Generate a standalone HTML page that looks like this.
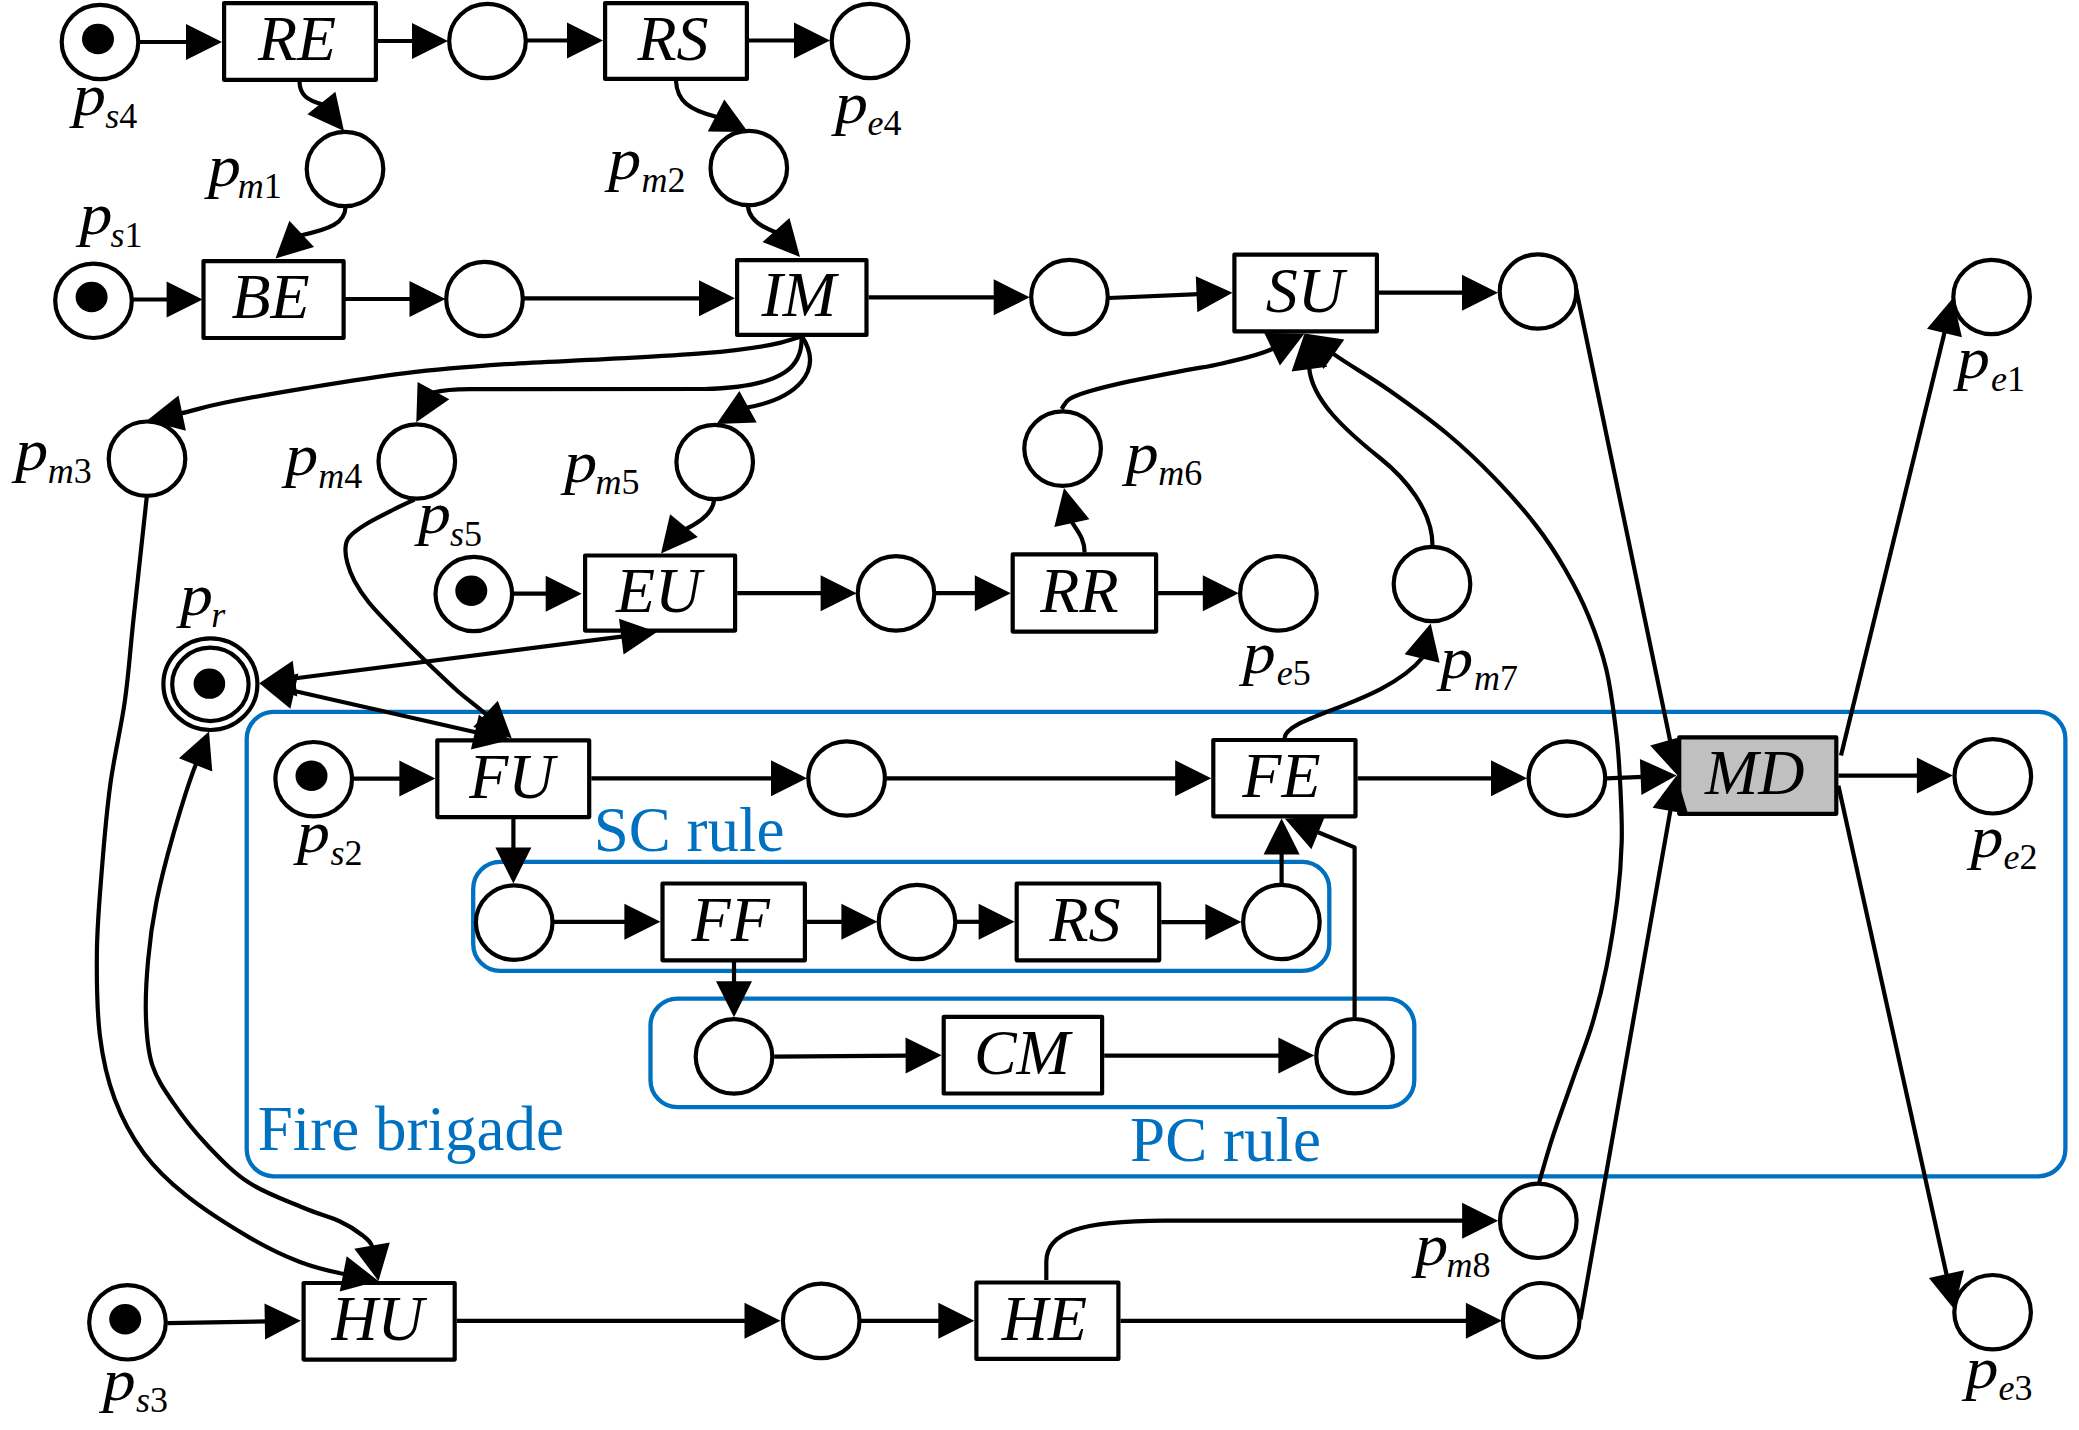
<!DOCTYPE html>
<html><head><meta charset="utf-8"><title>Petri net</title>
<style>
html,body{margin:0;padding:0;background:#fff;}
svg{display:block;}
.pl{fill:#fff;stroke:#000;stroke-width:4.2;}
.tr{stroke:#000;stroke-width:4.2;stroke-linejoin:round;}
.ln{fill:none;stroke:#000;stroke-width:4.2;stroke-linejoin:round;}
.bl{fill:none;stroke:#0070C0;stroke-width:4.3;}
polygon{fill:#000;}
text{font-family:"Liberation Serif",serif;}
.tn{font-style:italic;font-size:64px;text-anchor:middle;fill:#000;}
.lp{font-style:italic;font-size:59.93px;fill:#000;}
.ls{font-style:italic;font-size:36px;fill:#000;}
.ld{font-style:normal;}
.bt{font-size:63px;fill:#0070C0;}
</style></head>
<body>
<svg width="2079" height="1430" viewBox="0 0 2079 1430">
<rect width="2079" height="1430" fill="#fff"/>
<rect x="246.7" y="711.9" width="1818.7" height="464.4" rx="27" class="bl"/>
<rect x="473.2" y="861.9" width="856.1" height="109" rx="27" class="bl"/>
<rect x="650.5" y="998.6" width="763.8" height="108.6" rx="27" class="bl"/>
<path d="M139 42L188 42" class="ln"/>
<path d="M378 41L414 41" class="ln"/>
<path d="M527 40.5L569 40.5" class="ln"/>
<path d="M749 40.5L796 40.5" class="ln"/>
<path d="M299.5 82C300 95 307 100 322.6 104.5" class="ln"/>
<path d="M345.5 207.5C345 223 330 229 300.3 235.5" class="ln"/>
<path d="M676 81C677 101 689 110 717 117" class="ln"/>
<path d="M748 206.5C749 219 760 227 778 233" class="ln"/>
<path d="M133 299.5L168.6 299.5" class="ln"/>
<path d="M345 299L411.5 299" class="ln"/>
<path d="M523 298.3L701 298.3" class="ln"/>
<path d="M868.6 297.3L995.7 297.3" class="ln"/>
<path d="M1109 298L1198.5 294.2" class="ln"/>
<path d="M1379 292.7L1464 292.7" class="ln"/>
<path d="M801 336.5C790.9 339.3 786.7 342.1 770.6 344.9C754.5 347.7 731.9 350.8 704.2 353.2C676.6 355.6 637.9 357.4 604.7 359.2C571.5 361 538.3 361.9 505.1 364.2C471.9 366.5 438.7 369.1 405.5 373.1C372.3 377.1 336.4 383.1 306 388.1C275.6 393.1 244 398.8 223 403C202 407.2 194.6 410.5 180.3 413.5" class="ln"/>
<path d="M801.5 336.5C803 364 788 387 704 389L470 389.1C455 389.1 443 390 433 392.6" class="ln"/>
<path d="M802 336.5C825 372 795 399 747 407.5" class="ln"/>
<path d="M714 500.5C713 512 703 521 684 530" class="ln"/>
<path d="M513.5 593.7L547.7 593.7" class="ln"/>
<path d="M737.2 593.2L822.6 593.2" class="ln"/>
<path d="M935.3 593.2L976.8 593.2" class="ln"/>
<path d="M1157 593.2L1204.8 593.2" class="ln"/>
<path d="M1084.6 552.5C1084.6 538 1077 531 1071.6 521.5" class="ln"/>
<path d="M1061.5 409C1064.1 405.8 1064.7 402.2 1069.2 399.3C1073.7 396.4 1078.9 394.5 1088.5 391.6C1098.1 388.7 1111 385.4 1127 381.9C1143 378.4 1168.9 373.5 1184.7 370.4C1200.5 367.3 1207.1 367.2 1222 363.5C1236.9 359.8 1257.7 356.1 1273.9 348.3" class="ln"/>
<path d="M1432.5 545.5C1432.5 510 1405 478 1380 458C1345 430 1312 400 1309.2 368" class="ln"/>
<path d="M1539.2 1182C1543.8 1166.6 1547.5 1152.8 1553.1 1135.7C1558.7 1118.7 1566.2 1098.4 1572.7 1079.7C1579.2 1061 1586.7 1042.5 1592.3 1023.8C1597.9 1005.1 1602.1 988.8 1606.3 967.8C1610.5 946.8 1614.9 918.9 1617.5 897.9C1620.1 876.9 1621.2 860 1621.7 842C1622.2 824 1621.4 807.8 1620.5 790C1619.6 772.2 1618.9 755.2 1616.5 735C1614.1 714.8 1610.9 688.8 1606.2 669C1601.5 649.2 1595.4 632.8 1588.6 616.2C1581.8 599.6 1573.9 584.4 1565.1 569.2C1556.3 554 1547.5 540.3 1535.7 525.1C1524 509.9 1509.3 493.3 1494.6 478.1C1479.9 462.9 1465.1 448.7 1447.5 434C1429.9 419.3 1408 403.5 1388.8 390C1369.6 376.5 1350.7 366.1 1332.3 353.1" class="ln"/>
<path d="M1284.6 738C1285.5 716 1385 704 1423 657" class="ln"/>
<path d="M1575.5 286L1670.4 741.9" class="ln"/>
<path d="M1580.4 1319.4L1670.7 808.9" class="ln"/>
<path d="M1841 755.5L1944.9 331" class="ln"/>
<path d="M1838.4 785.7L1946.9 1276.1" class="ln"/>
<path d="M353.6 778.6L401.4 778.6" class="ln"/>
<path d="M591.3 778.3L773 778.3" class="ln"/>
<path d="M886.2 778.3L1177.2 778.3" class="ln"/>
<path d="M1357.6 778.3L1493 778.3" class="ln"/>
<path d="M1606.8 778.3L1642.6 776.8" class="ln"/>
<path d="M1838.4 775.6L1918.9 775.6" class="ln"/>
<path d="M552.7 921.8L626.4 921.8" class="ln"/>
<path d="M807 921.8L843.4 921.8" class="ln"/>
<path d="M956.7 921.8L980.6 921.8" class="ln"/>
<path d="M1161.3 922.1L1207.4 922.1" class="ln"/>
<path d="M774.2 1056.6L907.6 1055.6" class="ln"/>
<path d="M1104.2 1055.6L1280.4 1055.6" class="ln"/>
<path d="M167.4 1323.2L266.8 1321.4" class="ln"/>
<path d="M456.8 1320.8L746.5 1320.8" class="ln"/>
<path d="M861 1320.8L940.3 1320.8" class="ln"/>
<path d="M1120.5 1320.8L1467.9 1320.8" class="ln"/>
<path d="M513.4 819L513.4 849.5" class="ln"/>
<path d="M734 962L734 983.3" class="ln"/>
<path d="M1281.6 883L1281.6 852.4" class="ln"/>
<path d="M1354.6 1017.3L1354.6 847.4L1318.1 832.3" class="ln"/>
<path d="M1046.3 1280L1046.3 1262C1046.3 1232 1080 1221 1165 1220.7L1464 1220.7" class="ln"/>
<path d="M146.7 497.5C142.3 538.3 137 586.2 133.4 620C129.8 653.8 128.8 672.7 125 700C121.2 727.3 114.2 755.9 110.4 783.9C106.6 811.9 104.2 839.9 102 867.9C99.8 895.9 97.2 923.8 96.9 951.8C96.6 979.8 97 1011.2 99.9 1035.7C102.9 1060.2 107.3 1079.1 114.6 1098.7C121.9 1118.3 132 1137.1 143.9 1153.2C155.8 1169.3 168.4 1181.2 185.9 1195.2C203.4 1209.2 229.8 1226 248.8 1237.1C267.8 1248.2 283.9 1255.8 300 1262C316.1 1268.2 329.9 1271.3 345.2 1274.3" class="ln"/>
<path d="M196.4 763C187.1 786.2 180 811.2 173.3 834.3C166.7 857.4 160.7 880.4 156.5 901.4C152.3 922.4 149.8 940.6 148.1 960.2C146.3 979.8 145.3 1001.4 146 1018.9C146.7 1036.4 147.8 1051.1 152.3 1065.1C156.9 1079.1 164.2 1089.6 173.3 1102.9C182.4 1116.2 194.3 1131.5 206.9 1144.8C219.5 1158.1 232.7 1172.1 248.8 1182.6C264.9 1193.1 288.2 1201.3 303.4 1207.8C318.6 1214.3 330.2 1217 340 1221.5C349.8 1226 356.6 1230.7 362 1235C367.4 1239.3 371.4 1242.2 372.4 1247.5" class="ln"/>
<path d="M414.5 499.5C407.2 503 400.9 505.8 392.7 510C384.5 514.2 372.8 520 365.5 524.5C358.2 529 352.4 533.3 349.1 537.3C345.8 541.2 345.8 544 345.5 548.2C345.2 552.4 345.8 557.2 347.3 562.7C348.8 568.2 350.9 574.2 354.5 580.9C358.1 587.6 362.7 594.8 369.1 602.7C375.5 610.6 383.9 619.1 392.7 628.2C401.5 637.3 411.2 647 421.8 657.3C432.4 667.6 445.5 680.3 456.4 690C467.3 699.7 477.3 706.2 487 715.3" class="ln"/>
<path d="M290 679L623.3 636.3" class="ln"/>
<path d="M290 690L476.8 732.5" class="ln"/>
<polygon points="1677.3,775.2 1650.2,745.4 1684.9,735.7"/>
<ellipse cx="100" cy="42" rx="38.3" ry="37.2" class="pl"/>
<ellipse cx="98" cy="39" rx="16" ry="15.3" fill="#000"/>
<ellipse cx="487.5" cy="41" rx="38.3" ry="37.2" class="pl"/>
<ellipse cx="870" cy="41" rx="38.3" ry="37.2" class="pl"/>
<ellipse cx="345" cy="169" rx="38.3" ry="37.2" class="pl"/>
<ellipse cx="748.8" cy="168" rx="38.3" ry="37.2" class="pl"/>
<ellipse cx="93.5" cy="300.8" rx="38.3" ry="37.2" class="pl"/>
<ellipse cx="91.6" cy="297" rx="16" ry="15.3" fill="#000"/>
<ellipse cx="484.5" cy="299" rx="38.3" ry="37.2" class="pl"/>
<ellipse cx="1069.5" cy="297" rx="38.3" ry="37.2" class="pl"/>
<ellipse cx="1538" cy="291.5" rx="38.3" ry="37.2" class="pl"/>
<ellipse cx="1991.6" cy="297" rx="38.3" ry="37.2" class="pl"/>
<ellipse cx="147" cy="458.7" rx="38.3" ry="37.2" class="pl"/>
<ellipse cx="416.8" cy="461.5" rx="38.3" ry="37.2" class="pl"/>
<ellipse cx="714.7" cy="462" rx="38.3" ry="37.2" class="pl"/>
<ellipse cx="1062.6" cy="448.6" rx="38.3" ry="37.2" class="pl"/>
<ellipse cx="473.8" cy="594" rx="38.3" ry="37.2" class="pl"/>
<ellipse cx="471.3" cy="590.7" rx="16" ry="15.3" fill="#000"/>
<ellipse cx="896" cy="593.4" rx="38.3" ry="37.2" class="pl"/>
<ellipse cx="1278.4" cy="593.4" rx="38.3" ry="37.2" class="pl"/>
<ellipse cx="1432" cy="584" rx="38.3" ry="37.2" class="pl"/>
<ellipse cx="210.4" cy="684.2" rx="47" ry="45.8" class="pl"/>
<ellipse cx="210.4" cy="684.4" rx="38.2" ry="36.7" class="pl"/>
<ellipse cx="209.4" cy="683.7" rx="15.8" ry="15.1" fill="#000"/>
<ellipse cx="313.7" cy="779.2" rx="38.3" ry="37.2" class="pl"/>
<ellipse cx="311.5" cy="775.8" rx="16" ry="15.3" fill="#000"/>
<ellipse cx="846.6" cy="778.5" rx="38.3" ry="37.2" class="pl"/>
<ellipse cx="1566.9" cy="778.6" rx="38.3" ry="37.2" class="pl"/>
<ellipse cx="1992.8" cy="776.3" rx="38.3" ry="37.2" class="pl"/>
<ellipse cx="514.2" cy="922.6" rx="38.3" ry="37.2" class="pl"/>
<ellipse cx="917" cy="922" rx="38.3" ry="37.2" class="pl"/>
<ellipse cx="1281.4" cy="922" rx="38.3" ry="37.2" class="pl"/>
<ellipse cx="734" cy="1056.4" rx="38.3" ry="37.2" class="pl"/>
<ellipse cx="1354.6" cy="1056.2" rx="38.3" ry="37.2" class="pl"/>
<ellipse cx="1538.3" cy="1220.8" rx="38.3" ry="37.2" class="pl"/>
<ellipse cx="127.5" cy="1322.3" rx="38.3" ry="37.2" class="pl"/>
<ellipse cx="125.2" cy="1319.2" rx="16" ry="15.3" fill="#000"/>
<ellipse cx="821.2" cy="1320.9" rx="38.3" ry="37.2" class="pl"/>
<ellipse cx="1541.2" cy="1320.2" rx="38.3" ry="37.2" class="pl"/>
<ellipse cx="1992.6" cy="1312.2" rx="38.3" ry="37.2" class="pl"/>
<rect x="224.1" y="3.1" width="151.8" height="76.8" class="tr" fill="#fff"/>
<rect x="605.1" y="3.1" width="141.8" height="75.8" class="tr" fill="#fff"/>
<rect x="203.5" y="261.1" width="140.1" height="76.9" class="tr" fill="#fff"/>
<rect x="737.1" y="260.1" width="129.4" height="74.8" class="tr" fill="#fff"/>
<rect x="1234.4" y="254.6" width="142.5" height="76.8" class="tr" fill="#fff"/>
<rect x="585.1" y="555.5" width="150" height="75.1" class="tr" fill="#fff"/>
<rect x="1012.7" y="554.4" width="143.4" height="77.2" class="tr" fill="#fff"/>
<rect x="437.3" y="740.4" width="151.9" height="76.7" class="tr" fill="#fff"/>
<rect x="1213.3" y="740" width="142.2" height="76.3" class="tr" fill="#fff"/>
<rect x="1679.2" y="737.4" width="157.1" height="76.4" class="tr" fill="#c0c0c0"/>
<rect x="662.5" y="883.5" width="142.4" height="76.8" class="tr" fill="#fff"/>
<rect x="1016.7" y="883.5" width="142.5" height="76.8" class="tr" fill="#fff"/>
<rect x="943.7" y="1016.9" width="158.4" height="76.6" class="tr" fill="#fff"/>
<rect x="303.6" y="1283" width="151.1" height="76.6" class="tr" fill="#fff"/>
<rect x="976.4" y="1282.5" width="142" height="76.4" class="tr" fill="#fff"/>
<polygon points="222,42 186,60 186,24"/>
<polygon points="448,41 412,59 412,23"/>
<polygon points="603,40.5 567,58.5 567,22.5"/>
<polygon points="830,40.5 794,58.5 794,22.5"/>
<polygon points="344,131 307.4,114.3 335.4,91.7"/>
<polygon points="275.5,258.5 289.4,220.7 314,246.9"/>
<polygon points="748,132 707.8,131.5 724.3,99.5"/>
<polygon points="800,257 762.6,242.1 789.5,218.1"/>
<polygon points="202.6,299.5 166.6,317.5 166.6,281.5"/>
<polygon points="445.5,299 409.5,317 409.5,281"/>
<polygon points="735,298.3 699,316.3 699,280.3"/>
<polygon points="1029.7,297.3 993.7,315.3 993.7,279.3"/>
<polygon points="1232.5,292.7 1197.3,312.2 1195.8,276.3"/>
<polygon points="1498,292.7 1462,310.7 1462,274.7"/>
<polygon points="147,420.5 178.5,395.5 185.9,430.7"/>
<polygon points="416.3,422.3 417.6,382.1 449.3,399.2"/>
<polygon points="716.5,424 739.4,390.9 756.7,422.4"/>
<polygon points="661,553.4 670.1,514.2 697.8,537.1"/>
<polygon points="581.7,593.7 545.7,611.7 545.7,575.7"/>
<polygon points="856.6,593.2 820.6,611.2 820.6,575.2"/>
<polygon points="1010.8,593.2 974.8,611.2 974.8,575.2"/>
<polygon points="1238.8,593.2 1202.8,611.2 1202.8,575.2"/>
<polygon points="1064,488 1089.4,519.2 1054.3,527.1"/>
<polygon points="1304.5,333.5 1279.9,365.4 1264.3,333"/>
<polygon points="1304.5,333.5 1327.3,366.7 1291.6,371.6"/>
<polygon points="1304.5,333.5 1344.3,339.5 1323.6,369"/>
<polygon points="1430.7,623.5 1439.6,662.8 1404.6,654.2"/>
<polygon points="1676.6,775.4 1688.1,814 1652.6,807.7"/>
<polygon points="1953,298 1961.9,337.2 1927,328.7"/>
<polygon points="1954.2,1309.3 1928.9,1278 1964,1270.3"/>
<polygon points="435.4,778.6 399.4,796.6 399.4,760.6"/>
<polygon points="807,778.3 771,796.3 771,760.3"/>
<polygon points="1211.2,778.3 1175.2,796.3 1175.2,760.3"/>
<polygon points="1527,778.3 1491,796.3 1491,760.3"/>
<polygon points="1676.6,775.4 1641.4,794.9 1639.9,758.9"/>
<polygon points="1952.9,775.6 1916.9,793.6 1916.9,757.6"/>
<polygon points="660.4,921.8 624.4,939.8 624.4,903.8"/>
<polygon points="877.4,921.8 841.4,939.8 841.4,903.8"/>
<polygon points="1014.6,921.8 978.6,939.8 978.6,903.8"/>
<polygon points="1241.4,922.1 1205.4,940.1 1205.4,904.1"/>
<polygon points="941.6,1055.3 905.7,1073.6 905.5,1037.6"/>
<polygon points="1314.4,1055.6 1278.4,1073.6 1278.4,1037.6"/>
<polygon points="300.8,1320.8 265.1,1339.4 264.5,1303.5"/>
<polygon points="780.5,1320.8 744.5,1338.8 744.5,1302.8"/>
<polygon points="974.3,1320.8 938.3,1338.8 938.3,1302.8"/>
<polygon points="1501.9,1320.8 1465.9,1338.8 1465.9,1302.8"/>
<polygon points="513.4,883.5 495.4,847.5 531.4,847.5"/>
<polygon points="734,1017.3 716,981.3 752,981.3"/>
<polygon points="1281.6,818.4 1299.6,854.4 1263.6,854.4"/>
<polygon points="1285,818.8 1325.1,815.9 1311.4,849.2"/>
<polygon points="1498.1,1220.7 1462.1,1238.7 1462.1,1202.7"/>
<polygon points="378.5,1281 339.7,1291.6 346.7,1256.3"/>
<polygon points="378.5,1281 354.3,1248.8 389.8,1242.4"/>
<polygon points="209,731.5 212.3,771.6 178.9,758.2"/>
<polygon points="511.8,738.5 473.2,727 497.8,700.8"/>
<polygon points="657,632 623.6,654.4 619,618.7"/>
<polygon points="259.3,683.2 292.7,660.8 297.3,696.5"/>
<polygon points="510,740 470.9,749.6 478.9,714.5"/>
<polygon points="259.3,683.2 298.4,673.6 290.4,708.7"/>
<text x="297" y="60.3" class="tn">RE</text>
<text x="673" y="59.8" class="tn">RS</text>
<text x="270.6" y="318.4" class="tn">BE</text>
<text x="798.8" y="316.3" class="tn">IM</text>
<text x="1304.9" y="311.8" class="tn">SU</text>
<text x="658.6" y="611.8" class="tn">EU</text>
<text x="1079.4" y="611.8" class="tn">RR</text>
<text x="511.8" y="797.5" class="tn">FU</text>
<text x="1281.4" y="796.9" class="tn">FE</text>
<text x="1754.8" y="794.4" class="tn">MD</text>
<text x="730.7" y="940.7" class="tn">FF</text>
<text x="1085" y="940.7" class="tn">RS</text>
<text x="1021.9" y="1074" class="tn">CM</text>
<text x="377.6" y="1340.1" class="tn">HU</text>
<text x="1044.4" y="1339.5" class="tn">HE</text>
<text transform="translate(72.9 115) scale(1.1 1)" class="lp">p</text><text x="105.3" y="127.5" class="ls">s<tspan class="ld">4</tspan></text>
<text transform="translate(207.9 185.5) scale(1.1 1)" class="lp">p</text><text x="237.7" y="198" class="ls">m<tspan class="ld">1</tspan></text>
<text transform="translate(79.4 234.2) scale(1.1 1)" class="lp">p</text><text x="110.6" y="246.7" class="ls">s<tspan class="ld">1</tspan></text>
<text transform="translate(834.9 122.6) scale(1.1 1)" class="lp">p</text><text x="867.5" y="135.1" class="ls">e<tspan class="ld">4</tspan></text>
<text transform="translate(608.2 179.2) scale(1.1 1)" class="lp">p</text><text x="641.5" y="191.7" class="ls">m<tspan class="ld">2</tspan></text>
<text transform="translate(15.2 470.2) scale(1.1 1)" class="lp">p</text><text x="47.7" y="482.7" class="ls">m<tspan class="ld">3</tspan></text>
<text transform="translate(285.3 475.2) scale(1.1 1)" class="lp">p</text><text x="318.3" y="487.7" class="ls">m<tspan class="ld">4</tspan></text>
<text transform="translate(417.9 533.2) scale(1.1 1)" class="lp">p</text><text x="450.1" y="545.7" class="ls">s<tspan class="ld">5</tspan></text>
<text transform="translate(564.2 481.5) scale(1.1 1)" class="lp">p</text><text x="595.5" y="494" class="ls">m<tspan class="ld">5</tspan></text>
<text transform="translate(180.1 614.9) scale(1.1 1)" class="lp">p</text><text x="211.2" y="627.4" class="ls">r<tspan class="ld"></tspan></text>
<text transform="translate(1125.7 472.7) scale(1.1 1)" class="lp">p</text><text x="1158.2" y="485.2" class="ls">m<tspan class="ld">6</tspan></text>
<text transform="translate(1242.7 672.7) scale(1.1 1)" class="lp">p</text><text x="1276.8" y="685.2" class="ls">e<tspan class="ld">5</tspan></text>
<text transform="translate(1440.3 677.8) scale(1.1 1)" class="lp">p</text><text x="1474.1" y="690.3" class="ls">m<tspan class="ld">7</tspan></text>
<text transform="translate(1956.9 378.2) scale(1.1 1)" class="lp">p</text><text x="1990.9" y="390.7" class="ls">e<tspan class="ld">1</tspan></text>
<text transform="translate(297.1 852.1) scale(1.1 1)" class="lp">p</text><text x="330.6" y="864.6" class="ls">s<tspan class="ld">2</tspan></text>
<text transform="translate(1970.6 856.7) scale(1.1 1)" class="lp">p</text><text x="2003.4" y="869.2" class="ls">e<tspan class="ld">2</tspan></text>
<text transform="translate(1415.2 1264.5) scale(1.1 1)" class="lp">p</text><text x="1446.4" y="1277" class="ls">m<tspan class="ld">8</tspan></text>
<text transform="translate(102.7 1399.5) scale(1.1 1)" class="lp">p</text><text x="135.9" y="1412" class="ls">s<tspan class="ld">3</tspan></text>
<text transform="translate(1965.6 1387.9) scale(1.1 1)" class="lp">p</text><text x="1998.4" y="1400.4" class="ls">e<tspan class="ld">3</tspan></text>
<text x="593.8" y="851" class="bt">SC rule</text>
<text x="257.8" y="1149.6" class="bt">Fire brigade</text>
<text x="1130.1" y="1160.8" class="bt">PC rule</text>
</svg>
</body></html>
